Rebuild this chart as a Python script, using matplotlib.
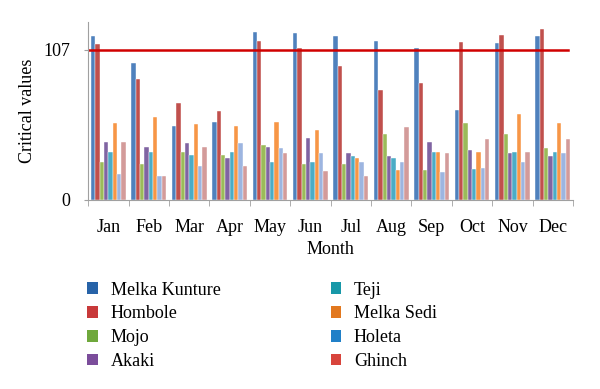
import numpy as np
import matplotlib.pyplot as plt
from matplotlib.patches import Patch

plt.rcParams['font.family'] = ['Liberation Serif', 'DejaVu Serif']

months = ['Jan', 'Feb', 'Mar', 'Apr', 'May', 'Jun',
          'Jul', 'Aug', 'Sep', 'Oct', 'Nov', 'Dec']
stations = ['Melka Kunture', 'Hombole', 'Mojo', 'Akaki',
            'Teji', 'Melka Sedi', 'Holeta', 'Ghinch']

melka_kunture = [116.6, 97.2, 52.6, 55.5, 119.7, 118.5, 116.6, 113.3, 108.3, 63.8, 111.4, 116.6]
hombole = [110.7, 86.3, 69.2, 63.3, 113.3, 108.1, 95.5, 78.2, 82.9, 112.1, 117.5, 121.4]
mojo = [27.3, 25.4, 34.4, 32.2, 38.9, 25.4, 25.4, 46.7, 21.3, 55.0, 46.7, 36.7]
akaki = [41.5, 37.9, 40.3, 30.1, 37.7, 43.8, 33.2, 31.3, 41.5, 35.5, 33.2, 31.3]
teji = [34.4, 34.4, 32.2, 34.4, 27.3, 27.3, 31.3, 29.6, 34.4, 21.8, 34.4, 34.4]
melka_sedi = [55.0, 58.8, 53.8, 52.6, 55.5, 49.5, 29.6, 21.3, 34.4, 34.4, 60.9, 55.0]
holeta = [18.2, 17.3, 24.2, 40.3, 36.7, 33.2, 27.3, 27.3, 20.1, 23.0, 27.3, 33.2]
ghinch = [41.5, 17.3, 37.9, 24.2, 33.2, 20.4, 17.3, 51.7, 33.2, 43.6, 34.4, 43.6]
series = [melka_kunture, hombole, mojo, akaki, teji, melka_sedi, holeta, ghinch]

critical = 107

bar_colors = ['#4f81bd', '#c0504d', '#9bbb59', '#8064a2',
              '#4bacc6', '#f79646', '#9db5e0', '#d39b9a']
legend_colors = ['#2763a8', '#c8393a', '#6fa83c', '#7b4d9b',
                 '#1798a8', '#e2781e', '#2080c8', '#d8443c']

fig = plt.figure(figsize=(6, 3.89), dpi=100)
ax = fig.add_axes([0.147, 0.486, 0.808, 0.457])

x = np.arange(len(months))
n = len(series)
w = 0.86 / n
for i, vals in enumerate(series):
    ax.bar(x - 0.43 + w * (i + 0.5), vals, width=w, color=bar_colors[i],
           edgecolor='white', linewidth=0.3)

ax.axhline(critical, color='#d00000', linewidth=1.8, xmin=0, xmax=0.99)

ax.set_xlim(-0.5, len(months) - 0.5)
ax.set_ylim(0, 126.5)
ax.set_yticks([0, critical])
ax.set_yticklabels(['0', '107'], fontsize=13)
ax.set_xticks(x)
ax.set_xticklabels(months, fontsize=13)
ax.set_xticks(np.arange(len(months) + 1) - 0.5, minor=True)
ax.tick_params(axis='x', which='major', length=0, pad=14)
ax.tick_params(axis='x', which='minor', length=4, color='#a0a0a0', direction='out')
ax.tick_params(axis='y', length=3, color='#a0a0a0', pad=10)

for s in ['top', 'right']:
    ax.spines[s].set_visible(False)
for s in ['left', 'bottom']:
    ax.spines[s].set_color('#a0a0a0')
    ax.spines[s].set_linewidth(0.8)

ax.set_xlabel('Month', fontsize=13, labelpad=3)
ax.set_ylabel('Critical values', fontsize=13, labelpad=5)

handles = [Patch(facecolor=c, edgecolor='none') for c in legend_colors]
fig.legend(handles, stations, ncol=2, loc='upper left',
           bbox_to_anchor=(0.118, 0.318), frameon=False, fontsize=13,
           handlelength=0.6, handleheight=0.6, handletextpad=0.7,
           columnspacing=6.1, labelspacing=0.38)

fig.savefig('out.png', dpi=100)
